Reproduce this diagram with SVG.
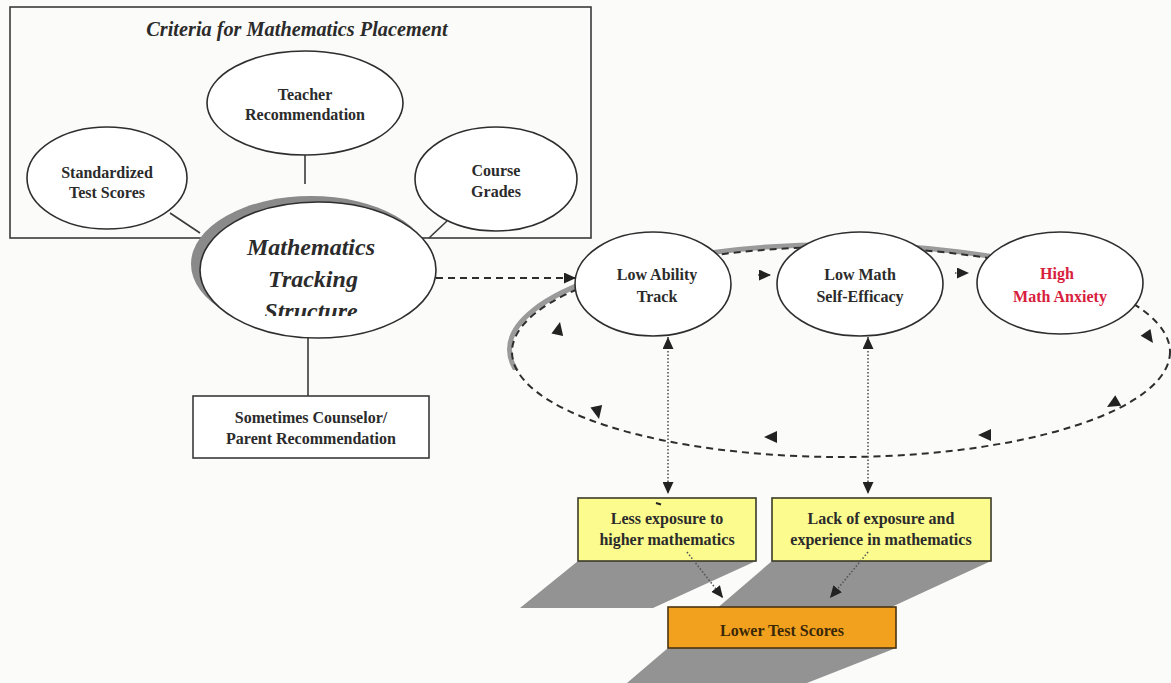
<svg xmlns="http://www.w3.org/2000/svg" xmlns:xlink="http://www.w3.org/1999/xlink" width="1171" height="683" viewBox="0 0 1171 683">
<style>
  .t { font-family: "Liberation Serif", "Times New Roman", serif; font-weight: bold; font-size: 16px; fill: #2b2b2b; text-anchor: middle; }
  .ti { font-family: "Liberation Serif", "Times New Roman", serif; font-weight: bold; font-style: italic; fill: #2b2b2b; text-anchor: middle; }
  .node { fill: #ffffff; stroke: #2e2e2e; stroke-width: 1.6; }
  .ln { fill: none; stroke: #3a3a3a; stroke-width: 1.6; }
  .dash { fill: none; stroke: #2e2e2e; stroke-width: 2; stroke-dasharray: 7 5; }
  .dot { fill: none; stroke: #555; stroke-width: 1.6; stroke-dasharray: 1.5 2; }
  .ybox { fill: #fcfc8e; stroke: #3a3a28; stroke-width: 1.6; }
  .obox { fill: #f2a11e; stroke: #4a3410; stroke-width: 1.6; }
  .shadow { fill: #939393; }
  .ah { fill: #222; }
</style>
<defs>
  <marker id="arr" viewBox="0 0 12 11" refX="12" refY="5.5" markerWidth="12" markerHeight="11" orient="auto-start-reverse" markerUnits="userSpaceOnUse">
    <path d="M0,0 L12,5.5 L0,11 Z" fill="#222"/>
  </marker>
  <path id="ahd" d="M0,0 L-13,-6 L-13,6 Z"/>
  <clipPath id="clipStruct"><rect x="200" y="290" width="240" height="26"/></clipPath>
  <clipPath id="clipLoopShadow"><rect x="490" y="225" width="500" height="145"/></clipPath>
</defs>
<rect x="0" y="0" width="1171" height="683" fill="#fbfbf9"/>

<!-- Criteria frame -->
<g id="criteria-frame">
  <rect x="10" y="7" width="581" height="231" fill="none" stroke="#3a3a3a" stroke-width="1.6"/>
  <text class="ti" x="297" y="36" font-size="20.3">Criteria for Mathematics Placement</text>
</g>

<!-- Connectors -->
<g id="connectors">
  <line class="ln" x1="305" y1="155" x2="305" y2="184"/>
  <line class="ln" x1="170" y1="213" x2="200" y2="233"/>
  <line class="ln" x1="447" y1="221" x2="429" y2="238"/>
  <line class="ln" x1="308" y1="338" x2="308" y2="396"/>
  <line class="dash" x1="436" y1="278" x2="576" y2="278" stroke-dasharray="6 4" marker-end="url(#arr)"/>
  <!-- feedback loop -->
  <ellipse cx="838.5" cy="349.5" rx="329" ry="105" fill="none" stroke="#9a9a9a" stroke-width="5" clip-path="url(#clipLoopShadow)"/>
  <ellipse class="dash" cx="841" cy="352" rx="329" ry="105"/>
  <line class="dot" x1="758" y1="275" x2="771" y2="275" marker-end="url(#arr)"/>
  <line class="dot" x1="955" y1="273" x2="969" y2="273" marker-end="url(#arr)"/>
  <use href="#ahd" class="ah" transform="translate(560,322) rotate(-78)"/>
  <use href="#ahd" class="ah" transform="translate(599,419) rotate(78)"/>
  <use href="#ahd" class="ah" transform="translate(764,437) rotate(180)"/>
  <use href="#ahd" class="ah" transform="translate(978,435) rotate(180)"/>
  <use href="#ahd" class="ah" transform="translate(1107,407) rotate(150)"/>
  <use href="#ahd" class="ah" transform="translate(1153,343) rotate(55)"/>
  <!-- vertical dotted double arrows -->
  <line class="dot" x1="668" y1="337" x2="668" y2="494" marker-start="url(#arr)" marker-end="url(#arr)"/>
  <line class="dot" x1="868" y1="337" x2="868" y2="494" marker-start="url(#arr)" marker-end="url(#arr)"/>
</g>

<!-- Criteria nodes -->
<g id="teacher">
  <ellipse class="node" cx="305" cy="103" rx="98" ry="52"/>
  <text class="t" x="305" y="100">Teacher</text>
  <text class="t" x="305" y="120">Recommendation</text>
</g>
<g id="standardized">
  <ellipse class="node" cx="107" cy="178" rx="80" ry="51"/>
  <text class="t" x="107" y="178">Standardized</text>
  <text class="t" x="107" y="198">Test Scores</text>
</g>
<g id="course-grades">
  <ellipse class="node" cx="496" cy="179" rx="81" ry="52"/>
  <text class="t" x="496" y="176">Course</text>
  <text class="t" x="496" y="197">Grades</text>
</g>

<!-- Mathematics Tracking Structure -->
<g id="tracking">
  <ellipse cx="311" cy="264" rx="120" ry="68" fill="#8a8a8a"/>
  <ellipse class="node" cx="318" cy="270" rx="118" ry="68"/>
  <text class="ti" x="311" y="255" font-size="24">Mathematics</text>
  <text class="ti" x="313" y="287" font-size="24">Tracking</text>
  <text class="ti" x="311" y="319" font-size="24" clip-path="url(#clipStruct)">Structure</text>
</g>

<g id="counselor">
  <rect x="193" y="396" width="236" height="62" fill="#ffffff" stroke="#3a3a3a" stroke-width="1.6"/>
  <text class="t" x="311" y="423">Sometimes Counselor/</text>
  <text class="t" x="311" y="444">Parent Recommendation</text>
</g>

<!-- chain nodes -->
<g id="low-ability">
  <ellipse class="node" cx="653" cy="284" rx="78" ry="52"/>
  <text class="t" x="657" y="280">Low Ability</text>
  <text class="t" x="657" y="302">Track</text>
</g>
<g id="low-efficacy">
  <ellipse class="node" cx="860" cy="284" rx="83" ry="52"/>
  <text class="t" x="860" y="280">Low Math</text>
  <text class="t" x="860" y="302">Self-Efficacy</text>
</g>
<g id="high-anxiety">
  <ellipse class="node" cx="1060" cy="283" rx="83" ry="51"/>
  <text class="t" x="1057" y="279" style="fill:#d8203c">High</text>
  <text class="t" x="1060" y="302" style="fill:#d8203c">Math Anxiety</text>
</g>

<!-- shadows -->
<g id="shadows">
  <polygon class="shadow" points="578,561 756,561 653,608 520,608"/>
  <polygon class="shadow" points="772,561 991,561 885,610 715,610"/>
  <polygon class="shadow" points="668,648 896,648 807,683 627,683"/>
</g>

<g id="less-exposure">
  <rect class="ybox" x="578" y="498" width="178" height="63"/>
  <path d="M656,503 l5,1.5" stroke="#222" stroke-width="2"/>
  <text class="t" x="667" y="524">Less exposure to</text>
  <text class="t" x="667" y="545">higher mathematics</text>
</g>
<g id="lack-exposure">
  <rect class="ybox" x="772" y="498" width="219" height="63"/>
  <text class="t" x="881" y="524">Lack of exposure and</text>
  <text class="t" x="881" y="545">experience in mathematics</text>
</g>
<g id="lower-scores">
  <rect class="obox" x="668" y="607" width="228" height="41"/>
  <text class="t" x="782" y="636" style="fill:#3a2808">Lower Test Scores</text>
</g>

<g id="connectors-lower">
  <line class="dot" x1="687" y1="552" x2="723" y2="598" marker-end="url(#arr)"/>
  <line class="dot" x1="868" y1="552" x2="830" y2="598" marker-end="url(#arr)"/>
</g>
</svg>
